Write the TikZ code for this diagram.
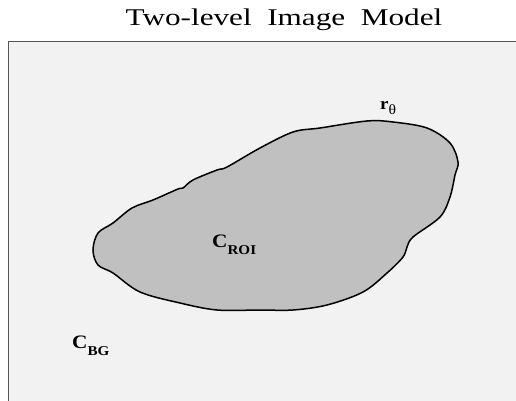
\documentclass[tikz,border=0pt]{standalone}
\usepackage{fontspec}
\setmainfont{Liberation Serif}
\usepackage{graphicx}
\definecolor{bggray}{HTML}{F2F2F2}
\definecolor{roigray}{HTML}{C0C0C0}
\definecolor{framegray}{HTML}{555555}
\tikzset{
  lbl/.style={inner sep=0pt,anchor=base west,font=\fontsize{19}{19}\selectfont\bfseries},
}
\newcommand{\subtxt}[1]{{\fontsize{13.5}{13.5}\selectfont #1}}
\begin{document}
\begin{tikzpicture}[x=1pt,y=-1pt]
        \useasboundingbox (0,0) rectangle (516,401);
        \fill [bggray] (8,41) rectangle (516,401);
        \draw [framegray,line width=1.4pt] (516,41.5) -- (8.5,41.5) -- (8.5,401);
        \node [inner sep=0pt,anchor=base] (title) at (284,26)
            {\fontsize{24}{24}\selectfont\scalebox{1.30}[1]{Two-level\ \ Image\ \ Model}};
        % region of interest
        \draw [fill=roigray,line width=1.5pt] plot [smooth cycle,tension=0.55] coordinates {
            (93,250) (98,233) (113,223) (132,208) (153,200) (178,189) (183,188)
            (193,180) (217,170) (227,167) (260,148) (293,132) (320,128) (367,121)
            (393,122) (427,128) (450,143) (458,162) (455,175) (450,197) (440,217)
            (413,237) (407,247) (403,257) (387,273) (363,292) (327,305) (293,310)
            (260,310) (217,310) (180,303) (140,292) (113,273) (98,265)};
        \node [lbl] (croi) at (212,247) {\scalebox{1.12}[1]{C\raisebox{-7pt}{\subtxt{ROI}}}};
        \node [lbl] (cbg) at (72,348) {\scalebox{1.12}[1]{C\raisebox{-7pt}{\subtxt{BG}}}};
        \node [lbl,font=\fontsize{17}{17}\selectfont] (rtheta) at (380,110)
            {\scalebox{1.12}[1]{\textbf{r}\raisebox{-5pt}{\fontsize{14}{14}\selectfont θ}}};
    \end{tikzpicture}
\end{document}
